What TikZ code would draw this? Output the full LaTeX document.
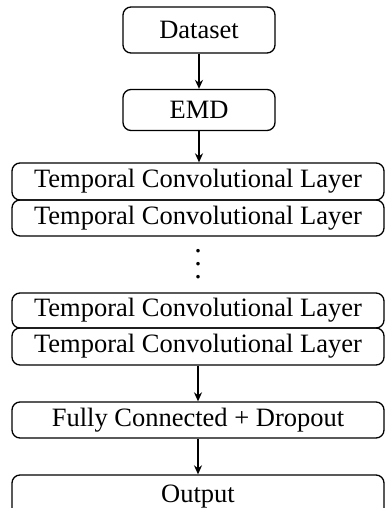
\documentclass[tikz,border=0pt]{standalone}
\usepackage{fontspec}
\setmainfont{Liberation Serif}
\usetikzlibrary{arrows.meta}
\newcommand{\tikzbox}[6]{\node (#1) at (#2, #3) [blk, minimum width = #4, minimum height = #5] {#6};}
\tikzset{
  blk/.style = {draw = black, line width = 1.3pt, rounded corners = 8pt, inner sep = 0pt,
    font = \fontsize{26.5}{30}\selectfont},
  pfeil/.style = {-{Stealth[length = 9pt, width = 8pt]}, line width = 1.3pt}
}

\begin{document}
\begin{tikzpicture}[x = 1pt, y = -1pt]   % 1 Pixel = 1pt
  % Bounding box
  \useasboundingbox (0, 0) rectangle (385, 508);
  % oben
  \tikzbox{data}{199}{30}{152pt}{46pt}{Dataset}
  \tikzbox{emd}{199}{110}{152pt}{41pt}{EMD}
  % Faltungsschichten
  \tikzbox{tcla}{198}{181.5}{372pt}{37pt}{Temporal Convolutional Layer}
  \tikzbox{tclb}{198}{218}{372pt}{36pt}{Temporal Convolutional Layer}
  \node (dots) at (198, 264) [inner sep = 0pt, font = \fontsize{30}{13}\selectfont]
    {\vbox{\baselineskip 13pt \hbox{.}\hbox{.}\hbox{.}}};
  \tikzbox{tclc}{198}{310.5}{372pt}{35pt}{Temporal Convolutional Layer}
  \tikzbox{tcld}{198}{346.5}{372pt}{37pt}{Temporal Convolutional Layer}
  % unten
  \tikzbox{fc}{198}{420}{372pt}{36pt}{Fully Connected + Dropout}
  \tikzbox{out}{198}{497}{372pt}{44pt}{Output}
  % Pfeile
  \draw [pfeil] (data) -- (emd);
  \draw [pfeil] (emd.south) -- (emd.south |- tcla.north);
  \draw [pfeil] (tcld) -- (fc);
  \draw [pfeil] (fc) -- (out);
\end{tikzpicture}
\end{document}
